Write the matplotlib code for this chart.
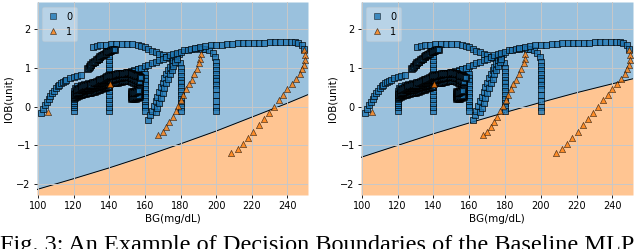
import numpy as np
import matplotlib.pyplot as plt
from matplotlib.lines import Line2D

# ---- class 0 trajectories (squares) ----
a0_x = [102, 103, 104, 105, 106, 107, 108, 109, 110, 111, 112, 113, 114, 115, 116, 118, 120, 122, 124]
a0_y = [-0.17, -0.05, 0.05, 0.13, 0.2, 0.27, 0.34, 0.41, 0.47, 0.52, 0.56, 0.6, 0.63, 0.66, 0.69, 0.73, 0.76, 0.79, 0.81]

b0_x = [120, 120, 120, 120, 120, 120, 120, 120, 120, 120,
        121, 122, 124, 126, 128, 130, 132, 134, 136, 138, 140, 142, 144, 146, 148, 150, 152, 154, 156, 158, 159.5,
        160, 160, 160, 160, 160, 160, 160, 160, 160, 160, 160]
b0_y = [-0.1, 0.0, 0.05, 0.1, 0.15, 0.2, 0.25, 0.3, 0.35, 0.4,
        0.47, 0.52, 0.56, 0.58, 0.6, 0.62, 0.64, 0.66, 0.68, 0.7, 0.72, 0.75, 0.78, 0.82, 0.86, 0.89, 0.92, 0.94, 0.96, 0.96, 0.92,
        0.85, 0.75, 0.65, 0.55, 0.45, 0.35, 0.25, 0.15, 0.05, 0.0, -0.1]

# dark bands between 120 and 160
c0_x = [121, 122, 123, 124, 125, 126, 127, 128, 129, 130, 131, 132, 133, 134, 135, 136, 137, 138, 139,
        140, 141, 142, 143, 144, 145, 146, 147, 148, 149, 150, 151, 152, 153, 154, 155, 156, 157]
c0_y = [0.3, 0.33, 0.36, 0.38, 0.4, 0.41, 0.42, 0.43, 0.44, 0.46, 0.47, 0.49, 0.5, 0.51, 0.52, 0.54, 0.55, 0.57, 0.58,
        0.59, 0.6, 0.6, 0.6, 0.61, 0.62, 0.63, 0.64, 0.65, 0.66, 0.66, 0.66, 0.65, 0.64, 0.62, 0.6, 0.58, 0.55]

d0_x = [122, 123, 124, 125, 126, 127, 128, 129, 130, 131, 132, 133, 134, 135, 136, 137, 138, 139, 140,
        141, 142, 143, 144, 145, 146, 147, 148, 149, 150, 151, 152, 153, 154, 155, 156, 157, 158]
d0_y = [0.42, 0.45, 0.48, 0.5, 0.52, 0.54, 0.55, 0.56, 0.57, 0.6, 0.62, 0.64, 0.66, 0.68, 0.7, 0.72, 0.74, 0.76, 0.78,
        0.79, 0.8, 0.81, 0.82, 0.83, 0.84, 0.845, 0.85, 0.855, 0.86, 0.86, 0.85, 0.84, 0.82, 0.8, 0.78, 0.76, 0.74]

n0_x = [122, 123, 124, 125, 126, 127, 128, 129, 130, 131, 132, 133, 134, 135, 136, 137, 138, 139,
        140, 141, 142, 143, 144, 145, 146, 147, 148, 149, 150, 151, 152, 153, 154, 155, 156, 157]
n0_y = [0.36, 0.39, 0.42, 0.44, 0.46, 0.48, 0.49, 0.5, 0.52, 0.54, 0.56, 0.57, 0.59, 0.6, 0.62, 0.64, 0.66, 0.68,
        0.69, 0.7, 0.7, 0.71, 0.72, 0.73, 0.74, 0.75, 0.76, 0.76, 0.76, 0.76, 0.75, 0.73, 0.71, 0.69, 0.67, 0.64]

o0_x = [121, 122, 123, 124, 125, 126, 127, 128, 129, 130, 131, 132, 133, 134, 135, 136, 137, 138, 139, 140]
o0_y = [0.22, 0.25, 0.27, 0.29, 0.31, 0.32, 0.33, 0.34, 0.35, 0.36, 0.38, 0.39, 0.41, 0.42, 0.44, 0.45, 0.47, 0.48, 0.5, 0.51]

# dark blob
e0_x = [153, 154, 155, 156, 157, 153, 154, 155, 156, 157, 153, 154, 155, 156, 157, 153, 154, 155, 156, 157,
        153.5, 154.5, 155.5, 156.5, 153.5, 154.5, 155.5, 156.5]
e0_y = [0.2, 0.2, 0.21, 0.22, 0.24, 0.26, 0.26, 0.27, 0.29, 0.31, 0.32, 0.33, 0.35, 0.37, 0.39, 0.37, 0.39, 0.41, 0.43, 0.45,
        0.23, 0.24, 0.25, 0.27, 0.34, 0.36, 0.38, 0.4]

f0_x = [140, 140, 140, 140, 140, 140, 140, 140, 140, 140, 140, 140, 140, 140, 140, 140,
        140.5, 139, 138, 137, 136, 135, 134, 133, 132, 131, 130, 129, 128.5]
f0_y = [-0.1, 0.0, 0.1, 0.2, 0.3, 0.4, 0.5, 0.6, 0.7, 0.8, 0.9, 1.0, 1.1, 1.2, 1.3, 1.4,
        1.44, 1.43, 1.4, 1.36, 1.32, 1.28, 1.24, 1.2, 1.16, 1.12, 1.08, 1.04, 1.0]

g0_x = [128, 129, 130, 131, 132, 133, 134, 135, 136, 137, 138, 139, 140, 141, 142, 143]
g0_y = [0.98, 1.03, 1.08, 1.12, 1.16, 1.2, 1.24, 1.28, 1.31, 1.34, 1.37, 1.4, 1.42, 1.44, 1.45, 1.45]

h0_x = [131, 133, 135, 138, 141, 144, 147, 150, 153, 156, 158, 160, 162, 164, 166, 168, 170, 172, 174, 176, 178, 179.5,
        180, 180, 180, 180, 180, 180, 180, 180, 180, 180, 180, 180]
h0_y = [1.53, 1.56, 1.58, 1.6, 1.61, 1.62, 1.62, 1.62, 1.61, 1.6, 1.57, 1.53, 1.48, 1.44, 1.4, 1.36, 1.32, 1.28, 1.25, 1.22, 1.2, 1.12,
        1.0, 0.9, 0.8, 0.7, 0.6, 0.5, 0.4, 0.3, 0.2, 0.1, 0.0, -0.1]

i0_x = [162, 163, 164, 165, 166, 167, 168, 169, 170, 171, 172, 173, 174, 175, 176, 177, 178, 179]
i0_y = [-0.35, -0.22, -0.1, 0.02, 0.14, 0.26, 0.38, 0.5, 0.62, 0.73, 0.84, 0.94, 1.03, 1.12, 1.2, 1.27, 1.32, 1.35]

j0_x = [166, 167, 168, 169, 170, 171, 172, 173, 174, 175, 176, 177, 178]
j0_y = [-0.15, -0.03, 0.1, 0.22, 0.35, 0.47, 0.6, 0.72, 0.84, 0.95, 1.05, 1.14, 1.22]

k0_x = [140, 142, 144, 146, 148, 150, 152, 154, 156, 158, 160, 162, 164, 166, 168, 170, 172, 174, 176, 178, 180,
        182, 184, 186, 188, 190, 192, 194, 196, 198, 199.5,
        200, 200, 200, 200, 200, 200, 200, 200, 200, 200, 200, 200]
k0_y = [0.6, 0.65, 0.7, 0.75, 0.79, 0.84, 0.88, 0.92, 0.96, 1.0, 1.04, 1.08, 1.12, 1.16, 1.2, 1.24, 1.28, 1.32, 1.36, 1.39, 1.42,
        1.45, 1.47, 1.49, 1.5, 1.51, 1.5, 1.48, 1.45, 1.38, 1.28,
        1.15, 1.05, 0.95, 0.85, 0.75, 0.65, 0.55, 0.45, 0.3, 0.15, 0.0, -0.1]

l0_x = [188, 191, 194, 197, 200, 203, 206, 209, 212, 215, 218, 221, 224, 227, 230, 233, 236, 239, 242, 244, 246, 248, 249.5]
l0_y = [1.52, 1.55, 1.57, 1.58, 1.6, 1.6, 1.62, 1.62, 1.63, 1.63, 1.64, 1.64, 1.65, 1.65, 1.66, 1.67, 1.68, 1.68, 1.68, 1.67, 1.64, 1.58, 1.5]

# ---- class 1 trajectories (triangles) ----
p1_x = [249.5, 250, 250, 249.3, 248.2, 246.8, 245, 242.5, 240, 237.5, 235, 232.2, 229.4, 226.6, 223.8, 220.6, 217.6, 214.8, 212, 208.4]
p1_y = [1.46, 1.33, 1.2, 1.08, 0.96, 0.84, 0.72, 0.58, 0.45, 0.3, 0.17, 0.0, -0.17, -0.31, -0.48, -0.65, -0.82, -0.96, -1.09, -1.19]

q1_x = [191.4, 191.0, 190.4, 189.1, 187.8, 186.3, 184.7, 183.1, 181.6, 180.3, 178.8, 177.3, 175.7, 173.8, 171.9, 170.0, 167.6]
q1_y = [1.37, 1.24, 1.12, 0.97, 0.84, 0.70, 0.58, 0.45, 0.30, 0.17, 0.02, -0.11, -0.26, -0.39, -0.52, -0.65, -0.73]

r1_x = [105.8, 140.4]
r1_y = [-0.15, 0.58]

# ---- decision boundaries ----
bound_x = [99.5, 100, 120, 140, 160, 180, 200, 220, 240, 251.5]
bound_left = [-2.14, -2.13, -1.86, -1.58, -1.28, -0.96, -0.63, -0.27, 0.09, 0.31]
bound_right = [-1.31, -1.30, -1.00, -0.70, -0.42, -0.15, 0.11, 0.36, 0.59, 0.72]

# sparse trajectories and the crowded ones (where overlapping edges turn nearly black)
x0 = np.concatenate([a0_x, b0_x, f0_x, h0_x, i0_x, j0_x, k0_x, l0_x])
y0 = np.concatenate([a0_y, b0_y, f0_y, h0_y, i0_y, j0_y, k0_y, l0_y])
x0d = np.concatenate([o0_x, c0_x, n0_x, d0_x, e0_x, g0_x])
y0d = np.concatenate([o0_y, c0_y, n0_y, d0_y, e0_y, g0_y])
x1 = np.concatenate([p1_x, q1_x, r1_x])
y1 = np.concatenate([p1_y, q1_y, r1_y])

XLIM = (99.5, 251.5)
YLIM = (-2.28, 2.70)
BLUE = '#1f77b4'
ORANGE = '#ff7f0e'


def draw(ax, boundary):
    ax.fill_between(bound_x, boundary, YLIM[1], color=BLUE, alpha=0.45, lw=0, zorder=0)
    ax.fill_between(bound_x, YLIM[0], boundary, color=ORANGE, alpha=0.45, lw=0, zorder=0)
    ax.plot(bound_x, boundary, color='black', lw=0.7, zorder=1)
    ax.grid(True, color='#c8c8c8', lw=0.7, zorder=1.5)
    ax.scatter(x0, y0, marker='s', s=20, c=BLUE, edgecolors='black', linewidths=0.6, alpha=0.8, zorder=3)
    ax.scatter(x0d, y0d, marker='s', s=20, c=BLUE, edgecolors='black', linewidths=1.4, alpha=0.8, zorder=3)
    ax.scatter(x1, y1, marker='^', s=20, c=ORANGE, edgecolors='black', linewidths=0.4, alpha=0.8, zorder=4)
    ax.set_xlim(*XLIM)
    ax.set_ylim(*YLIM)
    ax.set_xticks([100, 120, 140, 160, 180, 200, 220, 240])
    ax.set_yticks([-2, -1, 0, 1, 2])
    ax.tick_params(labelsize=7, length=2.5, width=0.6, pad=2)
    for s in ax.spines.values():
        s.set_visible(False)
    ax.set_xlabel('BG(mg/dL)', fontsize=7.5, labelpad=2)
    ax.set_ylabel('IOB(unit)', fontsize=7.5, labelpad=2)
    handles = [
        Line2D([], [], marker='s', ls='', color=BLUE, mec='black', mew=0.4, ms=4.5, alpha=0.8),
        Line2D([], [], marker='^', ls='', color=ORANGE, mec='black', mew=0.4, ms=5, alpha=0.8),
    ]
    ax.legend(handles, ['0', '1'], loc='upper left', fontsize=7, framealpha=0.3,
              handlelength=1.2, borderpad=0.5, labelspacing=0.5)


fig = plt.figure(figsize=(6.4, 2.49), dpi=100)
ax1 = fig.add_axes([37 / 640, 1 - 195 / 249, 271 / 640, 193 / 249])
ax2 = fig.add_axes([361 / 640, 1 - 195 / 249, 272 / 640, 193 / 249])
draw(ax1, bound_left)
draw(ax2, bound_right)

# figure caption, cut by the lower edge as in the source image
fig.text(0.0, -0.008, 'Fig. 3: An Example of Decision Boundaries of the Baseline MLP',
         fontfamily='Liberation Serif', fontsize=17.5, ha='left', va='baseline')

fig.savefig('out.png', dpi=100)
